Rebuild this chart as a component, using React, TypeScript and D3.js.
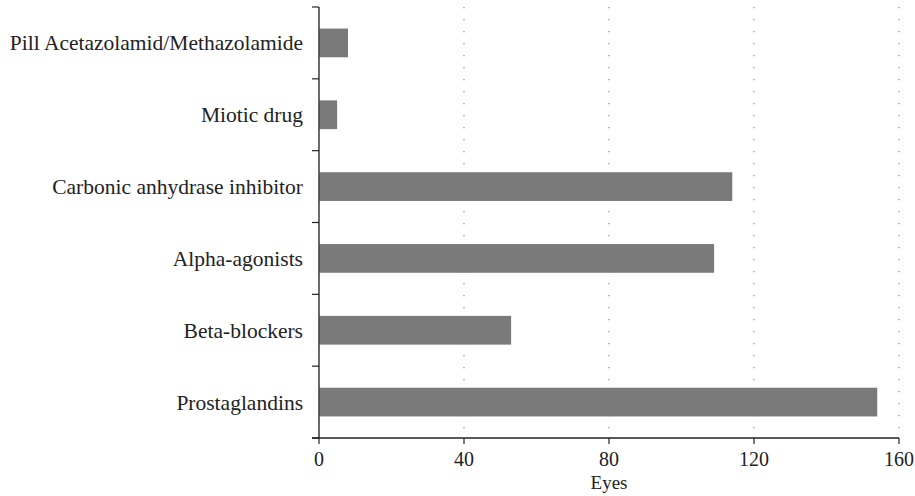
import { useEffect, useRef } from 'react';
import * as d3 from 'd3';

const categories = [
  'Pill Acetazolamid/Methazolamide',
  'Miotic drug',
  'Carbonic anhydrase inhibitor',
  'Alpha-agonists',
  'Beta-blockers',
  'Prostaglandins',
];
const eyes = [8, 5, 114, 109, 53, 154];
const xTicks = [0, 40, 80, 120, 160];
const gridTicks = [40, 80, 120, 160];

const FONT = '"Liberation Serif", "Times New Roman", serif';

export default function App() {
  const svgRef = useRef<SVGSVGElement>(null);

  useEffect(() => {
    if (!svgRef.current) return;
    const svg = d3.select(svgRef.current);
    svg.selectAll('*').remove();

    const left = 319;
    const right = 899;
    const top = 7;
    const bottom = 438;

    const x = d3.scaleLinear().domain([0, 160]).range([left, right]);
    const y = d3.scaleBand<string>()
      .domain(categories)
      .range([top, bottom])
      .paddingInner(0.6)
      .paddingOuter(0.3);
    const step = y.step();

    // dotted grid
    svg.append('g')
      .selectAll('line')
      .data(gridTicks)
      .enter()
      .append('line')
      .attr('x1', d => x(d))
      .attr('x2', d => x(d))
      .attr('y1', top)
      .attr('y2', bottom)
      .attr('stroke', '#8a8a8a')
      .attr('stroke-width', 1.2)
      .attr('stroke-dasharray', '1.2,10.8');

    // bars
    svg.append('g')
      .selectAll('rect')
      .data(categories)
      .enter()
      .append('rect')
      .attr('x', x(0))
      .attr('y', d => y(d)!)
      .attr('width', (_d, i) => x(eyes[i]) - x(0))
      .attr('height', y.bandwidth())
      .attr('fill', '#7a7a7a');

    // y axis
    svg.append('line')
      .attr('x1', left)
      .attr('x2', left)
      .attr('y1', top)
      .attr('y2', bottom)
      .attr('stroke', '#444')
      .attr('stroke-width', 1.6);

    const yTickPos = d3.range(categories.length + 1).map(i => top + i * step);
    svg.append('g')
      .selectAll('line')
      .data(yTickPos)
      .enter()
      .append('line')
      .attr('x1', left - 7)
      .attr('x2', left)
      .attr('y1', d => d)
      .attr('y2', d => d)
      .attr('stroke', '#222')
      .attr('stroke-width', 1.2);

    svg.append('g')
      .selectAll('text')
      .data(categories)
      .enter()
      .append('text')
      .attr('x', 303)
      .attr('y', d => y(d)! + y.bandwidth() / 2)
      .attr('dy', '0.35em')
      .attr('text-anchor', 'end')
      .attr('font-family', FONT)
      .attr('font-size', 21.5)
      .attr('fill', '#222')
      .text(d => d);

    // x axis
    svg.append('line')
      .attr('x1', left - 7)
      .attr('x2', right)
      .attr('y1', bottom)
      .attr('y2', bottom)
      .attr('stroke', '#222')
      .attr('stroke-width', 1.4);

    const xt = svg.append('g')
      .selectAll('g')
      .data(xTicks)
      .enter()
      .append('g')
      .attr('transform', d => `translate(${x(d)},${bottom})`);
    xt.append('line')
      .attr('y1', 0)
      .attr('y2', 6)
      .attr('stroke', '#222')
      .attr('stroke-width', 1.2);
    xt.append('text')
      .attr('y', 28)
      .attr('text-anchor', 'middle')
      .attr('font-family', FONT)
      .attr('font-size', 20)
      .attr('fill', '#222')
      .text(d => d);

    svg.append('text')
      .attr('x', (left + right) / 2)
      .attr('y', 489)
      .attr('text-anchor', 'middle')
      .attr('font-family', FONT)
      .attr('font-size', 19)
      .attr('fill', '#222')
      .text('Eyes');
  }, []);

  return (
    <svg
      ref={svgRef}
      width={915}
      height={496}
      style={{ position: 'absolute', left: 0, top: 0, background: '#fff' }}
    />
  );
}
